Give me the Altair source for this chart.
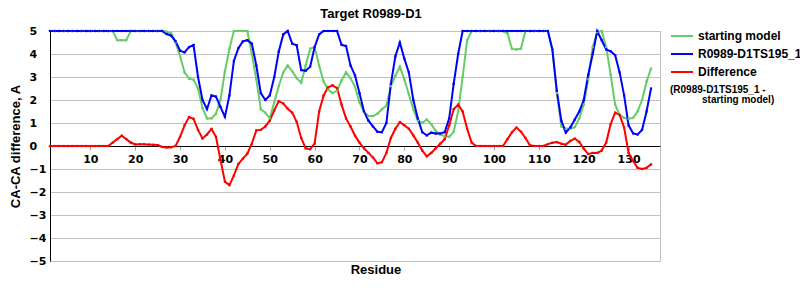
import altair as alt
import pandas as pd

series_names = ["starting model", "R0989-D1TS195_1", "Difference"]
series_colors = ["#66cc66", "#0000ff", "#ff0000"]
x_ticks = [10, 20, 30, 40, 50, 60, 70, 80, 90, 100, 110, 120, 130]
y_ticks = [-5, -4, -3, -2, -1, 0, 1, 2, 3, 4, 5]
x_title = "Residue"
legend_note = ["(R0989-D1TS195_1 -", "starting model)"]

starting_model = [
    5, 5, 5, 5, 5, 5, 5, 5, 5, 5,
    5, 5, 5, 5, 5, 4.6, 4.6, 4.6, 5, 5,
    5, 5, 5, 5, 5, 5, 4.97, 4.9, 4.5, 3.9,
    3.2, 2.93, 2.88, 2.5, 1.65, 1.2, 1.2, 1.4, 2.0, 3.25,
    4.23, 5, 5, 5, 5, 4.0, 2.9, 1.6, 1.45, 1.2,
    1.9, 2.6, 3.2, 3.5, 3.25, 2.95, 2.75, 3.5, 4.23, 4.3,
    3.5, 2.8, 2.45, 2.3, 2.4, 2.85, 3.2, 2.95, 2.57, 1.9,
    1.48, 1.3, 1.3, 1.4, 1.6, 1.75, 2.6, 3.05, 3.45, 2.9,
    2.25, 1.6, 1.1, 1.0, 1.15, 0.95, 0.65, 0.5, 0.42, 0.4,
    0.62, 1.5, 3.0, 4.6, 5, 5, 5, 5, 5, 5,
    5, 5, 4.9, 4.22, 4.2, 4.23, 5, 5, 5, 5,
    5, 5, 4.2, 2.3, 0.85, 0.75, 0.75, 0.82, 1.2, 1.8,
    2.9, 4.3, 4.95, 5, 4.3, 3.1, 1.8, 1.35, 1.22, 1.19,
    1.22, 1.5, 2.0, 2.8, 3.37,
]

model_195 = [
    5, 5, 5, 5, 5, 5, 5, 5, 5, 5,
    5, 5, 5, 5, 5, 5, 5, 5, 5, 5,
    5, 5, 5, 5, 5, 5, 4.87, 4.8, 4.55, 4.14,
    4.07, 4.3, 4.39, 3.0, 2.0, 1.6, 2.2, 2.15, 1.7, 1.27,
    2.2, 3.7, 4.25, 4.55, 4.6, 4.45, 3.5, 2.3, 2.0, 2.2,
    3.0, 4.1, 4.85, 5.0, 4.45, 4.38, 3.3, 3.27, 3.45, 4.3,
    4.85, 5, 5, 5, 5, 4.4, 4.35, 3.5, 3.07, 2.3,
    1.5, 1.1, 0.85, 0.62, 0.6, 1.0, 2.7, 3.9, 4.5, 3.8,
    3.2, 2.0, 1.2, 0.6, 0.46, 0.58, 0.54, 0.54, 0.6, 1.2,
    2.7, 4.0, 5, 5, 5, 5, 5, 5, 5, 5,
    5, 5, 5, 5, 5, 5, 5, 5, 5, 5,
    5, 5, 4.2, 2.4, 1.1, 0.58, 0.8, 1.15, 1.5, 2.0,
    3.1, 4.0, 5.0, 4.6, 4.2, 4.12, 3.95, 3.2, 2.2, 0.9,
    0.55, 0.5, 0.7, 1.5, 2.5,
]

difference = [
    0, 0, 0, 0, 0, 0, 0, 0, 0, 0,
    0, 0, 0, 0, 0.15, 0.3, 0.45, 0.3, 0.15, 0.07,
    0.08, 0.08, 0.06, 0.05, 0.04, -0.04, -0.06, -0.05, 0.0, 0.4,
    0.9, 1.26, 1.18, 0.7, 0.33, 0.5, 0.74, 0.4, -0.6, -1.55,
    -1.7, -1.28, -0.78, -0.55, -0.33, 0.1, 0.68, 0.7, 0.85, 1.1,
    1.55, 1.95, 1.85, 1.62, 1.45, 1.05, 0.35, -0.1, -0.14, 0.1,
    1.5, 2.2, 2.55, 2.64, 2.52, 1.8, 1.2, 0.85, 0.45, 0.15,
    -0.1, -0.3, -0.5, -0.75, -0.7, -0.3, 0.35, 0.75, 1.04, 0.9,
    0.75, 0.46, 0.15, -0.2, -0.45, -0.3, -0.1, 0.1, 0.3, 0.9,
    1.6, 1.8, 1.5, 0.75, 0.15, 0, 0, 0, 0, 0,
    0, 0, 0.3, 0.6, 0.8, 0.62, 0.35, 0.03, 0, 0,
    0, 0.08, 0.14, 0.17, 0.1, 0.06, 0.22, 0.32, 0.18, -0.12,
    -0.35, -0.3, -0.3, -0.2, 0.15, 0.95, 1.45, 1.35, 0.8, -0.3,
    -0.65, -0.95, -1.0, -0.95, -0.8,
]

rows = []
for name, vals in zip(series_names, [starting_model, model_195, difference]):
    for i, v in enumerate(vals):
        rows.append({"residue": i + 1, "value": v, "series": name})
df = pd.DataFrame(rows)

lines = alt.Chart(df).mark_line(
    strokeWidth=2,
    point=alt.OverlayMarkDef(shape="square", size=5, filled=True),
).encode(
    x=alt.X(
        "residue:Q",
        scale=alt.Scale(domain=[1, 137], nice=False, zero=False),
        axis=alt.Axis(
            values=x_ticks, offset=-115, grid=False,
            domainColor="black", tickColor="#a0a0a0", tickSize=4,
            labelFont="DejaVu Sans", labelFontWeight="bold", labelFontSize=11,
            labelColor="black", labelPadding=3, title=None,
        ),
    ),
    y=alt.Y(
        "value:Q",
        scale=alt.Scale(domain=[-5, 5], nice=False, zero=False),
        axis=alt.Axis(
            values=y_ticks, gridColor="#c0c0c0", domainColor="black",
            ticks=False, tickSize=0, labelAlign="left", labelPadding=21,
            labelFont="DejaVu Sans", labelFontWeight="bold", labelFontSize=11,
            labelColor="black",
            title="CA-CA difference, A", titleFont="Liberation Sans",
            titleFontSize=13, titleFontWeight="bold", titleColor="black",
            titleX=-35, titleY=115, titleAngle=270, titleBaseline="middle",
        ),
    ),
    color=alt.Color(
        "series:N",
        scale=alt.Scale(domain=series_names, range=series_colors),
        sort=series_names,
        legend=alt.Legend(
            orient="none", legendX=620, legendY=-7, title=None,
            symbolType="stroke", symbolSize=484, symbolStrokeWidth=2,
            labelFont="Liberation Sans", labelFontWeight="bold",
            labelFontSize=12, labelColor="black", labelOffset=4,
            rowPadding=-2, padding=0, labelLimit=300,
        ),
    ),
)

def label_layer(text, x, y, size):
    return alt.Chart(pd.DataFrame({"t": [text]})).mark_text(
        align="left" if size < 12 else "center", baseline="middle",
        font="Liberation Sans", fontWeight="bold", fontSize=size,
        color="black",
    ).encode(x=alt.value(x), y=alt.value(y), text="t:N")

note1 = label_layer(legend_note[0], 620, 59, 10)
note2 = label_layer(legend_note[1], 652, 69, 10)
xtitle = label_layer(x_title, 326, 239, 13)

chart = alt.layer(lines, note1, note2, xtitle).properties(
    width=610,
    height=230,
    title=alt.Title(
        "Target R0989-D1", font="Liberation Sans", fontSize=13,
        fontWeight="bold", anchor="middle", dx=16, dy=18, offset=11,
        baseline="alphabetic", color="black",
    ),
    padding={"left": 50, "top": 31, "right": 140, "bottom": 39},
    autosize=alt.AutoSizeParams(type="none"),
    background="white",
).configure_view(stroke="#c0c0c0")

chart.save("out.html", embed_options={"renderer": "svg", "actions": False})
